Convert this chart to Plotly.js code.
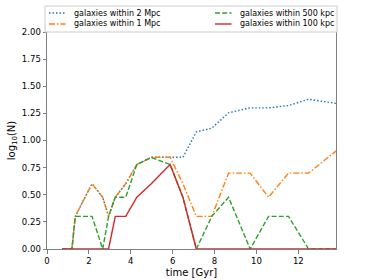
<!DOCTYPE html>
<html>
<head>
<meta charset="utf-8">
<script src="https://cdn.plot.ly/plotly-3.0.1.min.js"></script>
<style>html,body{margin:0;padding:0;background:#fff;}#chart{width:374px;height:280px;}</style>
</head>
<body>
<div id="chart"></div>
<script>
const time = [0.72, 1.19, 1.35, 1.83, 2.15, 2.66, 2.94, 3.26, 3.76, 4.29, 4.98, 5.88, 6.49, 7.13, 7.87, 8.67, 9.70, 10.58, 11.53, 12.49, 13.80];
const within2Mpc   = [0, 0, 0.301, 0.477, 0.602, 0.477, 0.301, 0.477, 0.602, 0.778, 0.845, 0.845, 0.845, 1.079, 1.114, 1.255, 1.301, 1.301, 1.322, 1.380, 1.342];
const within1Mpc   = [0, 0, 0.301, 0.477, 0.602, 0.477, 0.301, 0.477, 0.602, 0.778, 0.845, 0.845, 0.602, 0.301, 0.301, 0.699, 0.699, 0.477, 0.699, 0.699, 0.903];
const within500kpc = [0, 0, 0.301, 0.301, 0.301, 0, 0.301, 0.477, 0.477, 0.778, 0.845, 0.778, 0.477, 0, 0.301, 0.477, 0, 0.301, 0.301, 0, 0];
const within100kpc = [0, 0, 0, 0, 0, 0, 0, 0.301, 0.301, 0.477, 0.602, 0.778, 0.477, 0, 0, 0, 0, 0, 0, 0, 0];
const names = ['galaxies within 2 Mpc', 'galaxies within 1 Mpc', 'galaxies within 500 kpc', 'galaxies within 100 kpc'];
const xTicks = [0, 2, 4, 6, 8, 10, 12];
const yTicks = [0, 0.25, 0.5, 0.75, 1.0, 1.25, 1.5, 1.75, 2.0];

const styles = [
  {color: '#1f77b4', width: 1.4, dash: '1.5px,2px'},
  {color: '#ff7f0e', width: 1.4, dash: '6px,2px,1.5px,2px'},
  {color: '#2ca02c', width: 1.4, dash: '5px,2.2px'},
  {color: '#d62728', width: 1.4, dash: 'solid'}
];
const series = [within2Mpc, within1Mpc, within500kpc, within100kpc];

const traces = series.map((s, i) => ({
  type: 'scatter', mode: 'lines', x: time, y: s, name: names[i], line: styles[i]
}));

// figure geometry (px) for the legend placed above the axes
const W = 374, H = 280, M = {l: 47, r: 38, t: 32, b: 31};
const pw = W - M.l - M.r, ph = H - M.t - M.b;
const px = x => (x - M.l) / pw;
const py = y => (H - M.b - y) / ph;

// legend layout: column order matches the reference (2 Mpc, 1 Mpc | 500 kpc, 100 kpc)
const legCols = [[0, 1], [2, 3]];
const legColX = [49, 215];
const legRowY = [13, 24];
const shapes = [{
  type: 'rect', xref: 'paper', yref: 'paper', layer: 'above',
  x0: px(45), x1: px(337), y0: py(32), y1: py(6),
  line: {color: '#cccccc', width: 1}, fillcolor: '#ffffff'
}];
const annotations = [];
legCols.forEach((col, c) => col.forEach((idx, r) => {
  shapes.push({
    type: 'line', xref: 'paper', yref: 'paper', layer: 'above',
    x0: px(legColX[c]), x1: px(legColX[c] + 16.5), y0: py(legRowY[r]), y1: py(legRowY[r]),
    line: styles[idx]
  });
  annotations.push({
    xref: 'paper', yref: 'paper', x: px(legColX[c] + 23), y: py(legRowY[r]),
    xanchor: 'left', yanchor: 'middle', showarrow: false, text: names[idx],
    font: {family: 'DejaVu Sans', size: 8, color: '#000'}
  });
}));

const axisCommon = {
  showline: true, mirror: true, linecolor: '#808080', linewidth: 1,
  ticks: 'outside', ticklen: 3.5, tickwidth: 1, tickcolor: '#808080',
  showgrid: false, zeroline: false,
  tickfont: {family: 'DejaVu Sans', size: 8.5, color: '#000'}
};

const layout = {
  width: W, height: H,
  margin: M,
  paper_bgcolor: '#fff', plot_bgcolor: '#fff',
  font: {family: 'DejaVu Sans', color: '#000'},
  showlegend: false,
  shapes: shapes,
  annotations: annotations,
  xaxis: Object.assign({}, axisCommon, {
    range: [0, 13.8], tickvals: xTicks, ticktext: xTicks.map(String),
    title: {text: 'time [Gyr]', font: {family: 'DejaVu Sans', size: 10}, standoff: 4}
  }),
  yaxis: Object.assign({}, axisCommon, {
    range: [0, 2], tickvals: yTicks, ticktext: yTicks.map(v => v.toFixed(2)),
    title: {text: 'log<sub>10</sub>(N)', font: {family: 'DejaVu Sans', size: 10}, standoff: 4}
  })
};

Plotly.newPlot('chart', traces, layout, {displayModeBar: false, staticPlot: true});
</script>
</body>
</html>
